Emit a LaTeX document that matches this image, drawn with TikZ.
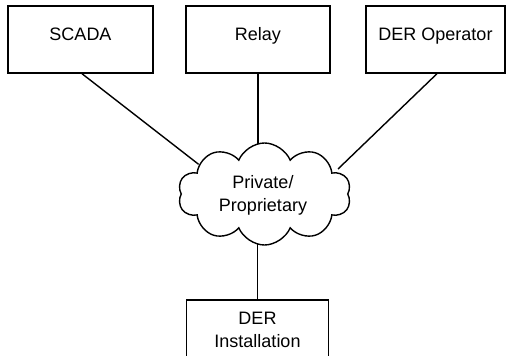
\documentclass[tikz,border=0pt]{standalone}
\usepackage{fontspec}
\setmainfont{Liberation Sans}
\usetikzlibrary{shapes.symbols}
\begin{document}
\begin{tikzpicture}[x=1pt,y=-1pt, line width=1.4pt,
  txtfont/.style={font=\fontsize{18}{23.5}\selectfont},
  box/.style={draw, rectangle, inner sep=0pt, txtfont, minimum height=67pt, text height=13pt, text depth=10.6pt},
  lbl/.style={inner sep=0pt, anchor=base, txtfont},
  link/.style={draw, line width=1.4pt}]
\useasboundingbox (0,0) rectangle (507,356);
\clip (0,0) rectangle (507,356);
\node[box, minimum width=145pt] (scada) at (80.5,39.5) {SCADA};
\node[box, minimum width=144pt] (relay) at (258,39.5) {Relay};
\node[box, minimum width=139pt] (derop) at (435.5,39.5) {DER Operator};
\node[box, minimum width=142pt] (derinst) at (257.5,333.5) {};
\node[lbl] (derinst1) at (257.5,324) {DER};
\node[lbl] (derinst2) at (257.5,347) {Installation};
\coordinate (c1) at (198.6,164.3);
\coordinate (c2) at (338,169);
\coordinate (c3) at (258,152);
\coordinate (c4) at (257.5,236);
\draw[link] (scada.south) ++(1.5,0) -- (c1);
\draw[link] (relay.south) -- (c3);
\draw[link] (derop.south) ++(1.5,0) -- (c2);
\draw[link] (c4) -- (derinst.north);
\node[cloud, draw, fill=white, cloud puffs=10, cloud puff arc=135, aspect=1.7,
      minimum width=173pt, minimum height=102pt, inner sep=0pt] (cloud) at (264.5,194) {};
\node[lbl] (cloudtxt1) at (263,188.3) {Private/};
\node[lbl] (cloudtxt2) at (263,211.7) {Proprietary};
\end{tikzpicture}
\end{document}
